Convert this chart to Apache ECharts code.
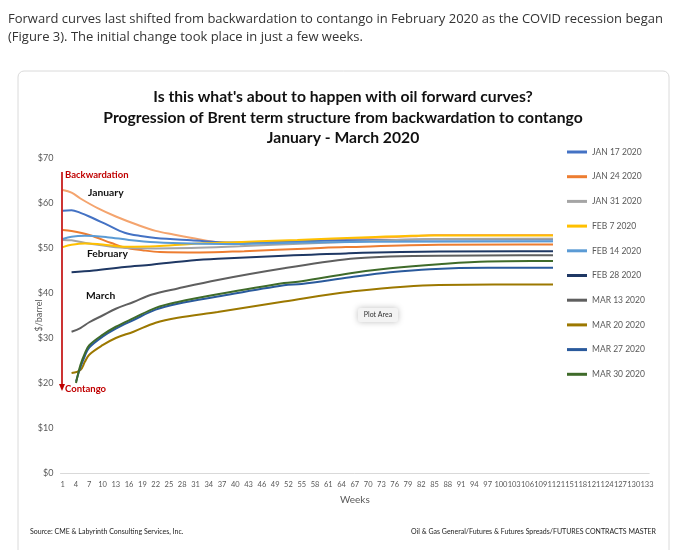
<!DOCTYPE html>
<html><head><meta charset="utf-8">
<script src="https://cdn.jsdelivr.net/npm/echarts@6/dist/echarts.min.js"></script>
<style>html,body{margin:0;padding:0;background:#fff}#c{width:690px;height:550px}</style>
</head><body><div id="c"></div>
<script>
// ---- categories / tick labels ----
const weeks = Array.from({length: 133}, (_, i) => String(i + 1));
const yTickValues = [0, 10, 20, 30, 40, 50, 60, 70];

// ---- series names (legend order) ----
const legendNames = ['JAN 17 2020','JAN 24 2020','JAN 31 2020','FEB 7 2020','FEB 14 2020','FEB 28 2020','MAR 13 2020','MAR 20 2020','MAR 27 2020','MAR 30 2020'];

// ---- series values (week -> $/barrel) ----
const topCurveWeeks = [1,3,5,9,13,18,22,26,32,36,42,50,60,70,80,85,100,133];
const topCurveVals  = [62.9,62.3,61.0,58.8,57.0,55.1,53.8,53.0,51.9,51.3,51.1,51.3,51.8,52.2,52.6,52.9,52.9,52.9];

const jan17Weeks = [1,3,5,7,11,15,19,22,30,39,50,60,75,90,133];
const jan17Vals  = [58.3,58.4,57.8,57.0,55.2,53.4,52.6,52.2,51.7,51.2,51.4,51.6,51.8,51.9,51.9];

const jan24Weeks = [1,3,7,12,15,19,23,32,42,57,65,86,133];
const jan24Vals  = [54.0,53.8,52.9,51.1,50.1,49.5,49.1,49.0,49.3,49.9,50.2,50.7,50.8];

const jan31Weeks = [1,3,7,14,22,30,41,56,70,85,133];
const jan31Vals  = [51.8,51.7,51.0,50.1,49.9,50.0,50.4,51.0,51.5,52.0,52.1];

const feb7Weeks = [1,3,6,10,15,22,30,40,54,70,84,133];
const feb7Vals  = [50.2,50.7,51.0,50.8,50.3,50.4,50.9,51.3,51.8,52.4,52.8,52.8];

const feb14Weeks = [1,3,6,11,16,22,30,40,55,70,133];
const feb14Vals  = [52.0,52.5,52.7,52.4,51.8,51.3,51.0,50.9,51.2,51.4,51.5];

const feb28Weeks = [3,8,15,21,30,36,51,65,86,133];
const feb28Vals  = [44.6,45.0,45.8,46.3,47.2,47.6,48.3,48.8,49.2,49.3];

const mar13Weeks = [3,5,7,10,13,17,21,27,36,51,66,75,86,133];
const mar13Vals  = [31.4,32.2,33.5,35.0,36.5,38.0,39.6,41.0,42.9,45.5,47.6,48.1,48.3,48.4];

const mar20Weeks = [3,5,6,7,10,13,17,22,27,36,51,66,86,111,133];
const mar20Vals  = [22.2,22.9,24.7,26.3,28.4,30.0,31.4,33.4,34.5,35.8,38.1,40.3,41.8,41.9,42.0];

const mar27Weeks = [4,5,6,7,10,13,17,22,27,36,51,55,66,75,84,97,133];
const mar27Vals  = [20.3,23.5,26.0,27.9,30.3,32.1,34.0,36.3,37.6,39.2,41.7,42.0,43.5,44.6,45.3,45.6,45.6];

const mar30Weeks = [4,5,6,7,10,13,17,22,27,36,51,55,66,75,86,97,111,133];
const mar30Vals  = [20.0,24.0,26.6,28.4,30.7,32.5,34.4,36.7,38.0,39.7,42.2,42.6,44.4,45.5,46.4,47.0,47.1,47.2];

// ---- build ----
const pairs = (w, v) => w.map((wk, i) => [String(wk), v[i]]);
const FONT = '"Lato", sans-serif';

const seriesDefs = [
  {name: 'JAN 2020 early', w: topCurveWeeks, v: topCurveVals, color: '#F4A46E'},
  {name: legendNames[0], w: jan17Weeks, v: jan17Vals, color: '#4472C4'},
  {name: legendNames[1], w: jan24Weeks, v: jan24Vals, color: '#ED7D31'},
  {name: legendNames[2], w: jan31Weeks, v: jan31Vals, color: '#A5A5A5'},
  {name: legendNames[3], w: feb7Weeks, v: feb7Vals, color: '#FFC000'},
  {name: legendNames[4], w: feb14Weeks, v: feb14Vals, color: '#5B9BD5'},
  {name: legendNames[5], w: feb28Weeks, v: feb28Vals, color: '#1F3864'},
  {name: legendNames[6], w: mar13Weeks, v: mar13Vals, color: '#5F5F5F'},
  {name: legendNames[7], w: mar20Weeks, v: mar20Vals, color: '#9C7800'},
  {name: legendNames[8], w: mar27Weeks, v: mar27Vals, color: '#2A5A9C'},
  {name: legendNames[9], w: mar30Weeks, v: mar30Vals, color: '#3F6B2A'}
];

const chart = echarts.init(document.getElementById('c'), null, {renderer: 'canvas'});
const red = '#C00000';
const option = {
  animation: false,
  backgroundColor: '#fff',
  textStyle: {fontFamily: FONT},
  grid: {left: 60.5, right: 40.8, top: 158, bottom: 77, containLabel: false},
  legend: {
    data: legendNames,
    orient: 'vertical',
    left: 553, top: 140,
    padding: [6, 12, 8, 14],
    backgroundColor: '#fff',
    icon: 'rect', itemWidth: 20, itemHeight: 3, itemGap: 12.7,
    textStyle: {fontSize: 8.5, color: '#595959', lineHeight: 12, fontFamily: FONT},
    selectedMode: false
  },
  xAxis: {
    type: 'category', data: weeks, boundaryGap: true,
    name: 'Weeks', nameLocation: 'middle', nameGap: 22, nameMoveOverlap: false,
    nameTextStyle: {fontSize: 10, color: '#595959', fontFamily: FONT},
    axisLine: {lineStyle: {color: '#D9D9D9', width: 1}},
    axisTick: {show: false},
    axisLabel: {interval: 2, fontSize: 7.5, color: '#595959', margin: 8, fontFamily: FONT,
                hideOverlap: false, showMaxLabel: true, showMinLabel: true},
    splitLine: {show: false}
  },
  yAxis: {
    type: 'value', min: 0, max: 70, interval: 10,
    name: '$/barrel', nameLocation: 'middle', nameGap: 17, nameRotate: 90, nameMoveOverlap: false,
    nameTextStyle: {fontSize: 9, color: '#595959', fontFamily: FONT},
    axisLine: {show: false}, axisTick: {show: false},
    axisLabel: {formatter: v => '$' + v, fontSize: 9, color: '#595959', margin: 7, fontFamily: FONT},
    splitLine: {show: false}
  },
  series: seriesDefs.map(s => ({
    name: s.name, type: 'line', data: pairs(s.w, s.v),
    symbol: 'none', smooth: 0.35,
    lineStyle: {color: s.color, width: 2},
    itemStyle: {color: s.color},
    z: 2
  })),
  graphic: [
    {type: 'rect', shape: {x: 18, y: 71, width: 651, height: 520, r: 6}, style: {fill: 'none', stroke: '#DADADA', lineWidth: 1}, z: 0, silent: true},
    {type: 'text', left: 8, top: 13, style: {text: 'Forward curves last shifted from backwardation to contango in February 2020 as the COVID recession began', fill: '#333', font: '13px "Open Sans"'}},
    {type: 'text', left: 8, top: 31, style: {text: '(Figure 3). The initial change took place in just a few weeks.', fill: '#333', font: '13px "Open Sans"'}},
    {type: 'text', x: 343, y: 97, style: {text: "Is this what's about to happen with oil forward curves?", fill: '#111', font: 'bold 15.7px ' + FONT, align: 'center', verticalAlign: 'middle'}},
    {type: 'text', x: 343, y: 118, style: {text: 'Progression of Brent term structure from backwardation to contango', fill: '#111', font: 'bold 15.7px ' + FONT, align: 'center', verticalAlign: 'middle'}},
    {type: 'text', x: 343, y: 138, style: {text: 'January - March 2020', fill: '#111', font: 'bold 15.7px ' + FONT, align: 'center', verticalAlign: 'middle'}},
    {type: 'line', shape: {x1: 62, y1: 172, x2: 62, y2: 385}, style: {stroke: red, lineWidth: 1.6}, z: 10},
    {type: 'polygon', shape: {points: [[59, 384], [65, 384], [62, 391]]}, style: {fill: red}, z: 10},
    {type: 'text', x: 65, y: 175, style: {text: 'Backwardation', fill: red, font: 'bold 9.5px ' + FONT, verticalAlign: 'middle'}, z: 10},
    {type: 'text', x: 65, y: 389, style: {text: 'Contango', fill: red, font: 'bold 9.5px ' + FONT, verticalAlign: 'middle'}, z: 10},
    {type: 'text', x: 88, y: 193, style: {text: 'January', fill: '#111', font: 'bold 10.3px ' + FONT, verticalAlign: 'middle'}, z: 10},
    {type: 'text', x: 87, y: 254, style: {text: 'February', fill: '#111', font: 'bold 10.3px ' + FONT, verticalAlign: 'middle'}, z: 10},
    {type: 'text', x: 86, y: 296, style: {text: 'March', fill: '#111', font: 'bold 10.3px ' + FONT, verticalAlign: 'middle'}, z: 10},
    {type: 'rect', shape: {x: 358, y: 308, width: 40, height: 14, r: 2}, style: {fill: '#F3F3F3', shadowBlur: 6, shadowColor: 'rgba(0,0,0,0.25)'}, z: 10},
    {type: 'text', x: 378, y: 315, style: {text: 'Plot Area', fill: '#333', font: '7px ' + FONT, align: 'center', verticalAlign: 'middle'}, z: 11},
    {type: 'text', x: 30, y: 532, style: {text: 'Source: CME & Labyrinth Consulting Services, Inc.', fill: '#222', font: '7px ' + FONT, verticalAlign: 'middle'}},
    {type: 'text', x: 656, y: 532, style: {text: 'Oil & Gas General/Futures & Futures Spreads/FUTURES CONTRACTS MASTER', fill: '#222', font: '7px ' + FONT, align: 'right', verticalAlign: 'middle'}}
  ]
};
chart.setOption(option);
</script></body></html>
